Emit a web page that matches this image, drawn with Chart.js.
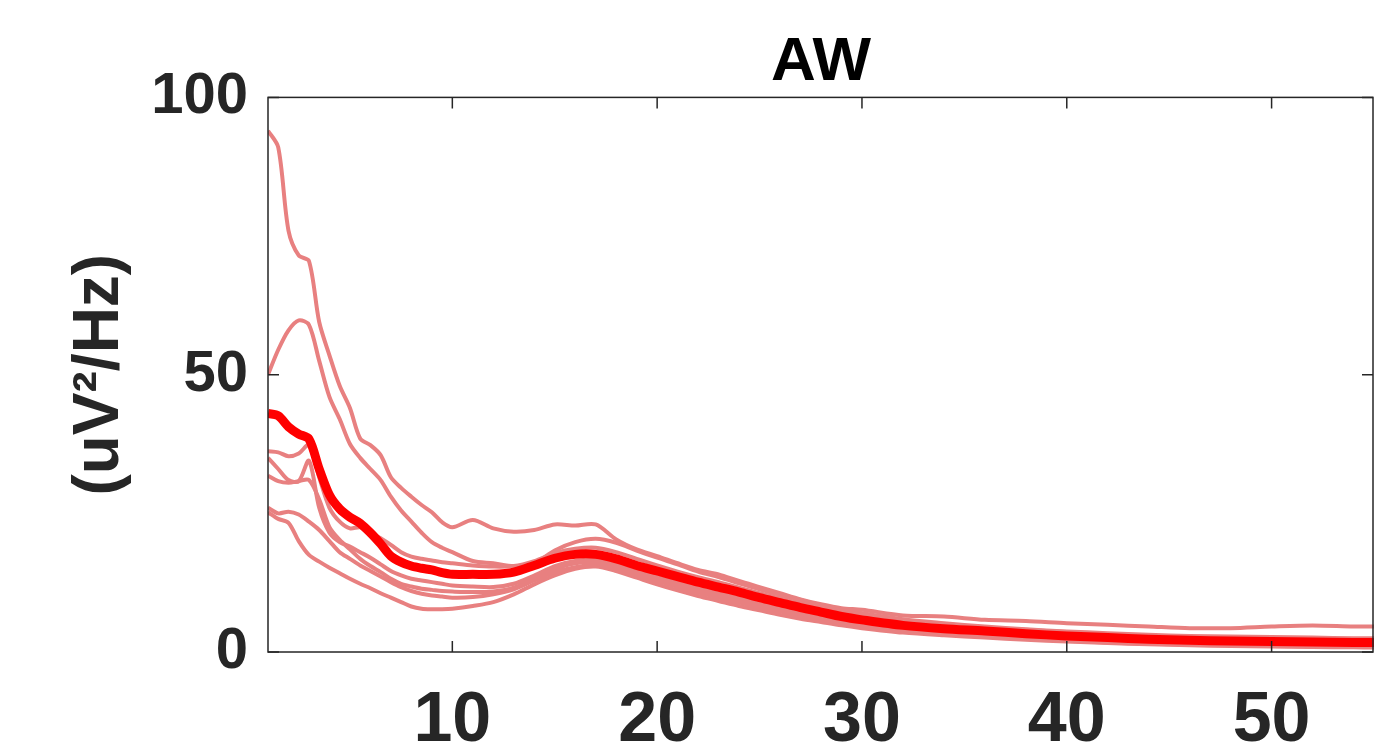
<!DOCTYPE html>
<html>
<head>
<meta charset="utf-8">
<script src="https://cdn.jsdelivr.net/npm/chart.js@4.4.0/dist/chart.umd.min.js"></script>
<style>
  html, body { margin: 0; padding: 0; background: #fff; }
  #wrap { width: 1374px; height: 751px; }
</style>
</head>
<body>
<div id="wrap"><canvas id="psdChart" width="1374" height="751"></canvas></div>
<script>
// frequency axis (Hz)
var freqs = [1, 1.5, 2, 2.5, 3, 3.5, 4, 4.5, 5, 5.5, 6, 6.5, 7, 7.5, 8, 8.5, 9, 9.5, 10,
  11, 12, 13, 14, 15, 16, 17, 18, 19, 20, 21, 22, 23, 24, 25, 26, 27, 28, 29, 30,
  32, 34, 36, 38, 40, 42, 44, 46, 48, 50, 52, 54, 55];

// group mean (thick red)
var meanPsd = [43, 42.6, 40.6, 39.3, 38.4, 33, 28.3, 25.8, 24.3, 23.2, 21.5, 19.5, 17.3, 16.2, 15.5, 15.1, 14.8, 14.3, 14.0,
  14.0, 14.0, 14.4, 15.6, 16.9, 17.6, 17.6, 16.8, 15.6, 14.6, 13.6, 12.6, 11.7, 10.8, 9.8, 8.9, 8.0, 7.2, 6.4, 5.8,
  4.8, 4.2, 3.8, 3.3, 2.9, 2.6, 2.3, 2.1, 2.0, 1.9, 1.8, 1.7, 1.7];

// individual subjects (light red)
var subjA = [94, 91, 76, 71.5, 70.5, 59.5, 53.5, 48, 44, 38.5, 37.3, 35.5, 31.5, 29.6, 28, 26.5, 25.2, 23.4, 22.5,
  23.8, 22.3, 21.7, 22.0, 23.0, 22.8, 23.0, 20.3, 18.5, 17.3, 16.0, 14.8, 14.0, 12.8, 11.7, 10.6, 9.5, 8.6, 7.9, 7.6,
  6.6, 6.4, 5.8, 5.6, 5.2, 4.9, 4.6, 4.3, 4.3, 4.6, 4.8, 4.6, 4.6];
var subjB = [50, 54.5, 58, 59.8, 59, 52.5, 46, 42, 37.5, 35, 33, 31, 28, 25.5, 23.5, 21.5, 19.8, 18.8, 18.0,
  16.4, 16.0, 15.5, 16.0, 18.3, 19.8, 20.4, 19.7, 18.3, 17.0, 15.8, 14.5, 13.5, 12.4, 11.3, 10.3, 9.4, 8.4, 7.6, 7.0,
  5.9, 5.2, 4.6, 4.1, 3.7, 3.4, 3.1, 2.9, 2.8, 2.7, 2.6, 2.5, 2.5];
var subjC = [36.2, 36, 35.3, 35.8, 37.3, 31.5, 26, 23.5, 22.3, 22.5, 21.5, 20.5, 19.3, 18, 17.2, 16.8, 16.5, 16.2, 16.0,
  15.6, 15.4, 15.5, 16.4, 17.8, 18.6, 18.8, 18.0, 16.8, 15.6, 14.5, 13.5, 12.6, 11.6, 10.6, 9.7, 8.8, 8.0, 7.3, 6.7,
  5.6, 4.9, 4.4, 4.0, 3.6, 3.2, 2.9, 2.6, 2.5, 2.4, 2.3, 2.2, 2.2];
var subjD = [35, 33, 31, 30.8, 34.5, 26, 21.5, 19.8, 19, 18, 17, 15.8, 14.6, 13.8, 13.2, 12.9, 12.6, 12.3, 12.0,
  11.8, 11.7, 12.3, 13.8, 15.5, 16.4, 16.6, 15.8, 14.6, 13.5, 12.6, 11.6, 10.7, 9.8, 8.9, 8.0, 7.2, 6.5, 5.9, 5.4,
  4.4, 3.8, 3.3, 2.9, 2.5, 2.2, 1.9, 1.7, 1.6, 1.5, 1.4, 1.3, 1.3];
var subjE = [31.8, 30.8, 30.5, 30.8, 31, 27.5, 22.5, 20.2, 18.5, 16.8, 15.5, 14.4, 13.2, 12.3, 11.8, 11.4, 11.2, 11.0, 10.9,
  10.8, 10.9, 11.6, 13.2, 15.0, 16.0, 16.2, 15.4, 14.3, 13.2, 12.1, 11.1, 10.2, 9.3, 8.4, 7.6, 6.8, 6.1, 5.5, 5.0,
  4.1, 3.5, 3.0, 2.6, 2.2, 1.9, 1.7, 1.5, 1.3, 1.2, 1.1, 1.0, 1.0];
var subjF = [26, 25, 25.3, 24.8, 23.5, 22, 20, 18, 16.8, 15.6, 14.6, 13.6, 12.6, 11.7, 11.0, 10.5, 10.2, 10.0, 9.8,
  9.9, 10.4, 11.3, 12.9, 14.4, 15.3, 15.7, 15.0, 13.9, 12.8, 11.7, 10.7, 9.8, 8.9, 8.1, 7.3, 6.5, 5.8, 5.2, 4.7,
  3.8, 3.2, 2.8, 2.4, 2.0, 1.7, 1.5, 1.3, 1.2, 1.1, 1.0, 0.9, 0.9];
var subjG = [25.2, 24, 23.3, 20, 17.5, 16.3, 15.2, 14.2, 13.2, 12.3, 11.5, 10.6, 9.8, 9.0, 8.2, 7.8, 7.7, 7.7, 7.8,
  8.3, 9.0, 10.4, 12.2, 13.8, 15.0, 15.4, 14.6, 13.4, 12.2, 11.1, 10.1, 9.2, 8.3, 7.5, 6.7, 6.0, 5.4, 4.8, 4.3,
  3.5, 3.0, 2.6, 2.2, 1.9, 1.6, 1.4, 1.2, 1.1, 1.0, 0.9, 0.85, 0.8];

var xTicks = [10, 20, 30, 40, 50];
var yTicks = [0, 50, 100];

var subjects = [subjA, subjB, subjC, subjD, subjE, subjF, subjG];
var axisColor = '#262626';
var fontFam = "'Liberation Sans', Arial, sans-serif";

function toPoints(vals) {
  return freqs.map(function (f, i) { return { x: f, y: vals[i] }; });
}

var datasets = [{
  label: 'mean',
  data: toPoints(meanPsd),
  borderColor: '#FF0000',
  borderWidth: 9,
  pointRadius: 0,
  tension: 0.3
}];
subjects.forEach(function (s, i) {
  datasets.push({
    label: 'subject ' + (i + 1),
    data: toPoints(s),
    borderColor: '#E88080',
    borderWidth: 4,
    pointRadius: 0,
    tension: 0.3
  });
});

// box around the plot with inward ticks (matlab style)
var boxPlugin = {
  id: 'boxPlugin',
  afterDraw: function (chart) {
    var a = chart.chartArea, c = chart.ctx;
    var xs = chart.scales.x, ys = chart.scales.y;
    var len = 11;
    c.save();
    c.strokeStyle = axisColor;
    c.lineWidth = 1.5;
    c.strokeRect(a.left, a.top, a.right - a.left - 1, a.bottom - a.top);
    c.beginPath();
    xTicks.forEach(function (v) {
      var px = xs.getPixelForValue(v);
      c.moveTo(px, a.bottom); c.lineTo(px, a.bottom - len);
      c.moveTo(px, a.top); c.lineTo(px, a.top + len);
    });
    yTicks.forEach(function (v) {
      var py = ys.getPixelForValue(v);
      c.moveTo(a.left, py); c.lineTo(a.left + len, py);
      c.moveTo(a.right - 1, py); c.lineTo(a.right - 1 - len, py);
    });
    c.stroke();
    c.restore();
  }
};

var ctx = document.getElementById('psdChart').getContext('2d');
var chart = new Chart(ctx, {
  type: 'line',
  data: { datasets: datasets },
  plugins: [boxPlugin],
  options: {
    responsive: false,
    animation: false,
    events: [],
    layout: { padding: 0 },
    plugins: {
      legend: { display: false },
      tooltip: { enabled: false },
      title: {
        display: true,
        text: 'AW',
        fullSize: false,
        color: '#000',
        font: { family: fontFam, size: 62, weight: 'bold', lineHeight: 1.2 },
        padding: { top: 26, bottom: -3 }
      }
    },
    scales: {
      x: {
        type: 'linear',
        min: 1,
        max: 55,
        afterBuildTicks: function (scale) {
          scale.ticks = xTicks.map(function (v) { return { value: v }; });
        },
        afterFit: function (scale) { scale.height = 99; },
        grid: { display: false, drawTicks: false },
        border: { display: false },
        ticks: {
          color: axisColor,
          padding: 35,
          maxRotation: 0,
          font: { family: fontFam, size: 70, weight: 'bold', lineHeight: 1.0 }
        }
      },
      y: {
        min: 0,
        max: 100,
        afterBuildTicks: function (scale) {
          scale.ticks = yTicks.map(function (v) { return { value: v }; });
        },
        afterFit: function (scale) { scale.width = 268; },
        grid: { display: false, drawTicks: false },
        border: { display: false },
        title: {
          display: true,
          text: '(uV\u00B2/Hz)',
          color: axisColor,
          font: { family: fontFam, size: 64, weight: 'bold', lineHeight: 1.2 },
          padding: { top: 62, bottom: 0 }
        },
        ticks: {
          color: axisColor,
          padding: 20,
          font: { family: fontFam, size: 58, weight: 'bold', lineHeight: 1.2 }
        }
      }
    }
  }
});
</script>
</body>
</html>
